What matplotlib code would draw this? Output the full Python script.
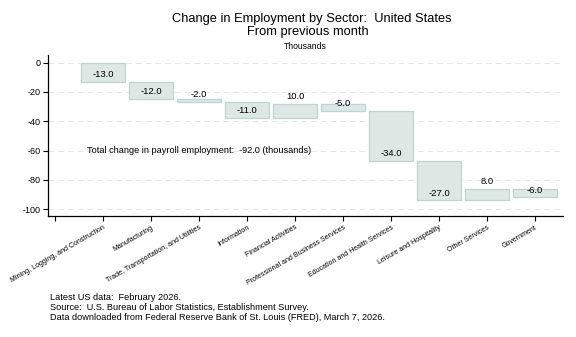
import numpy as np
import matplotlib
matplotlib.use('Agg')
import matplotlib.pyplot as plt
from matplotlib import rcParams

rcParams['font.family'] = ['Liberation Sans', 'DejaVu Sans']

# Monthly change in payroll employment by sector, thousands
sectors = ['Mining, Logging, and Construction', 'Manufacturing',
           'Trade, Transportation, and Utilities', 'Information',
           'Financial Activities', 'Professional and Business Services',
           'Education and Health Services', 'Leisure and Hospitality',
           'Other Services', 'Government']
changes = [-13.0, -12.0, -2.0, -11.0, 10.0, -5.0, -34.0, -27.0, 8.0, -6.0]
yticks = [0, -20, -40, -60, -80, -100]
footer = ['Latest US data:  February 2026.',
          'Source:  U.S. Bureau of Labor Statistics, Establishment Survey.',
          'Data downloaded from Federal Reserve Bank of St. Louis (FRED), March 7, 2026.']

ends = np.cumsum(changes)
starts = ends - np.array(changes)
total = ends[-1]
xpos = np.arange(1, len(sectors) + 1)

fig = plt.figure(figsize=(5.76, 3.37), dpi=100)
ax = fig.add_axes([0.0833, 0.358, 0.894, 0.479])

ax.bar(xpos, np.array(changes), bottom=starts, width=0.9,
       color='#dde8e5', edgecolor='#bcd6cf', linewidth=0.9, zorder=2)
for x, e, v in zip(xpos, ends, changes):
    ax.text(x, e + 5, f'{v:.1f}', ha='center', va='center', fontsize=6.8, zorder=3)

ax.text(3, -60, f'Total change in payroll employment:  {total:.1f} (thousands)',
        ha='center', va='center', fontsize=6.6)

ax.set_xlim(-0.146, 10.58)
ax.set_ylim(-104.9, 5.2)
ax.set_yticks(yticks)
ax.set_yticklabels([str(t) for t in yticks], fontsize=6.5)
ax.set_xticks(np.arange(0, len(sectors) + 1))
ax.set_xticklabels([''] + sectors, rotation=30, ha='right', rotation_mode='anchor',
                   fontsize=5.0)
ax.tick_params(axis='x', length=3.5, width=0.8, pad=2)
ax.tick_params(axis='y', length=3.5, width=0.8, pad=2)
for y in yticks:
    ax.axhline(y, color='#e6e6e6', linewidth=0.7, linestyle=(0, (6, 4)), zorder=0)
for s in ['top', 'right']:
    ax.spines[s].set_visible(False)
ax.spines['left'].set_linewidth(0.9)
ax.spines['bottom'].set_linewidth(0.9)

fig.text(0.542, 0.944, 'Change in Employment by Sector:  United States',
         ha='center', va='center', fontsize=9.3)
fig.text(0.534, 0.905, 'From previous month', ha='center', va='center', fontsize=9.3)
fig.text(0.53, 0.862, 'Thousands', ha='center', va='center', fontsize=6.2)

for i, line in enumerate(footer):
    fig.text(0.087, 1 - (298 + 9.5 * i) / 337, line, ha='left', va='center', fontsize=6.6)

fig.savefig('out.png', dpi=100)
